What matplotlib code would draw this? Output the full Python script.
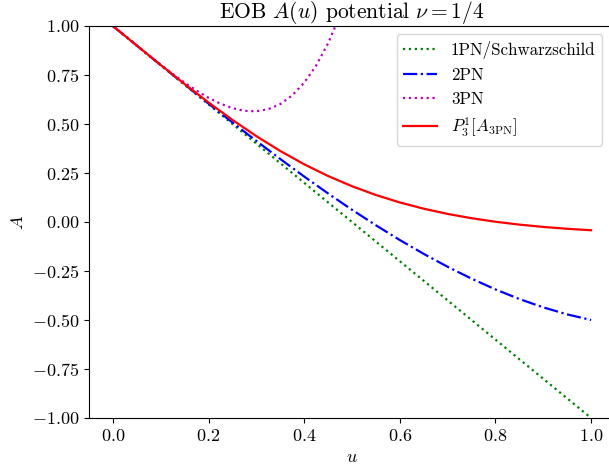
import matplotlib
matplotlib.use("Agg")
import matplotlib.pyplot as plt

plt.rcParams['font.family'] = 'serif'
plt.rcParams['font.serif'] = ['cmr10']
plt.rcParams['mathtext.fontset'] = 'cm'
plt.rcParams['axes.formatter.use_mathtext'] = True
plt.rcParams['axes.unicode_minus'] = True

# u grid (step 0.05)
u = [0.0, 0.05, 0.10, 0.15, 0.20, 0.25, 0.30, 0.35, 0.40, 0.45, 0.50,
     0.55, 0.60, 0.65, 0.70, 0.75, 0.80, 0.85, 0.90, 0.95, 1.00]

A_1pn = [1.0, 0.9, 0.8, 0.7, 0.6, 0.5, 0.4, 0.3, 0.2, 0.1, 0.0,
         -0.1, -0.2, -0.3, -0.4, -0.5, -0.6, -0.7, -0.8, -0.9, -1.0]

A_2pn = [1.0, 0.90006, 0.8005, 0.70169, 0.604, 0.50781, 0.4135, 0.32144, 0.232,
         0.14556, 0.0625, -0.01681, -0.092, -0.16269, -0.2285, -0.28906, -0.344,
         -0.39294, -0.4355, -0.47131, -0.5]

A_pade = [1.0, 0.90009, 0.80092, 0.70367, 0.60981, 0.52081, 0.43801, 0.36239,
          0.29453, 0.23462, 0.18251, 0.13775, 0.09976, 0.06784, 0.04125, 0.01929,
          0.00130, -0.01334, -0.02515, -0.03459, -0.04207]

# 3PN on a finer grid (step 0.025)
u3 = [0.0, 0.025, 0.05, 0.075, 0.10, 0.125, 0.15, 0.175, 0.20, 0.225, 0.25,
      0.275, 0.30, 0.325, 0.35, 0.375, 0.40, 0.425, 0.45, 0.475, 0.50]
A_3pn = [1.0, 0.950015, 0.90018, 0.8508, 0.80237, 0.75554, 0.71115, 0.67021,
         0.6339, 0.60359, 0.58081, 0.56728, 0.56487, 0.57566, 0.60188, 0.64593,
         0.71041, 0.79808, 0.91188, 1.05494, 1.2305]

xticks = [0.0, 0.2, 0.4, 0.6, 0.8, 1.0]
xticklabels = [r'$0.0$', r'$0.2$', r'$0.4$', r'$0.6$', r'$0.8$', r'$1.0$']
yticks = [-1.0, -0.75, -0.5, -0.25, 0.0, 0.25, 0.5, 0.75, 1.0]
yticklabels = [r'$-1.00$', r'$-0.75$', r'$-0.50$', r'$-0.25$', r'$0.00$',
               r'$0.25$', r'$0.50$', r'$0.75$', r'$1.00$']

fig = plt.figure(figsize=(6.09, 4.70), dpi=100)
ax = fig.add_axes([89/609, 1 - 418/470, (615 - 89)/609, (418 - 26)/470])

lw = 1.6
ax.plot(u, A_1pn, color='g', linestyle=':', lw=lw, label='1PN/Schwarzschild')
ax.plot(u, A_2pn, color='b', linestyle='-.', lw=lw, label='2PN')
ax.plot(u3, A_3pn, color='m', linestyle=':', lw=lw, label='3PN')
ax.plot(u, A_pade, color='r', linestyle='-', lw=lw, label=r'$P^1_3[A_{\rm 3PN}]$')

ax.set_ylim(-1.0, 1.0)
ax.set_xlim(-0.05, 1.05)
ax.set_xticks(xticks)
ax.set_xticklabels(xticklabels, fontsize=13)
ax.set_yticks(yticks)
ax.set_yticklabels(yticklabels, fontsize=13)
ax.set_xlabel(r'$u$', fontsize=13, labelpad=4)
ax.set_ylabel(r'$A$', fontsize=13)
ax.set_title(r'EOB $A(u)$ potential $\nu=1/4$', fontsize=15.5, pad=5)
ax.legend(loc='upper right', bbox_to_anchor=(0.992, 1.0), fontsize=12.2)

fig.savefig('out.png', dpi=100)
